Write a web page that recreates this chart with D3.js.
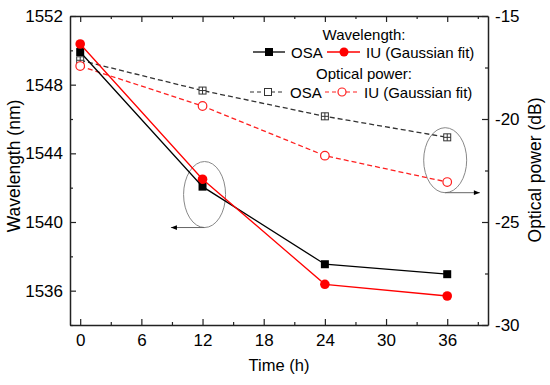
<!DOCTYPE html>
<html>
<head>
<meta charset="utf-8">
<script src="https://cdn.jsdelivr.net/npm/d3@7"></script>
<style>
body { margin: 0; background: white; }
text { font-family: Arial, "Liberation Sans", sans-serif; fill: black; }
</style>
</head>
<body>
<svg id="chart" width="550" height="385"></svg>
<script>
// data
var times = [0, 12, 24, 36];
var wlOSA = [1549.9, 1542.06, 1537.54, 1536.96];
var wlIU = [1550.37, 1542.49, 1536.37, 1535.69];
var pwOSA = [-17.15, -18.62, -19.87, -20.89];
var pwIU = [-17.43, -19.37, -21.78, -23.06];

var xTicks = [0, 6, 12, 18, 24, 30, 36];
var xMinor = [3, 9, 15, 21, 27, 33, 39];
var yLeftTicks = [1536, 1540, 1544, 1548, 1552];
var yLeftMinor = [1534, 1538, 1542, 1546, 1550];
var yRightTicks = [-30, -25, -20, -15];
var yRightMinor = [-27.5, -22.5, -17.5];

var pLeft = 70, pRight = 488, pTop = 16, pBottom = 325;
var svg = d3.select("#chart");

var x = d3.scaleLinear().domain([-1, 40]).range([pLeft, pRight]);
var yL = d3.scaleLinear().domain([1534, 1552]).range([pBottom, pTop]);
var yR = d3.scaleLinear().domain([-30, -15]).range([pBottom, pTop]);

// arrowhead for the ellipse pointers
svg.append("defs").append("marker")
    .attr("id", "arrow")
    .attr("viewBox", "0 0 10 10")
    .attr("refX", 10).attr("refY", 5)
    .attr("markerWidth", 9).attr("markerHeight", 6)
    .attr("markerUnits", "userSpaceOnUse")
    .attr("orient", "auto")
    .append("path").attr("d", "M0,1 L10,5 L0,9 Z").attr("fill", "black");

function axisStyle(g)
{
    g.select(".domain").attr("stroke", "#222").attr("stroke-width", 1.5);
    g.selectAll(".tick line").attr("stroke", "#222").attr("stroke-width", 1.2);
    g.selectAll(".tick text").style("font-size", "17px").attr("fill", "black");
}

// bottom and top axes, ticks pointing in
var gx = svg.append("g").attr("transform", "translate(0," + pBottom + ")")
    .call(d3.axisBottom(x).tickValues(xTicks).tickSizeInner(-6).tickSizeOuter(0).tickPadding(9));
axisStyle(gx);
var gxm = svg.append("g").attr("transform", "translate(0," + pBottom + ")")
    .call(d3.axisBottom(x).tickValues(xMinor).tickSizeInner(-3).tickSizeOuter(0).tickFormat(""));
axisStyle(gxm);
gxm.select(".domain").remove();

var gxt = svg.append("g").attr("transform", "translate(0," + pTop + ")")
    .call(d3.axisTop(x).tickValues(xTicks).tickSizeInner(-6).tickSizeOuter(0).tickFormat(""));
axisStyle(gxt);
var gxtm = svg.append("g").attr("transform", "translate(0," + pTop + ")")
    .call(d3.axisTop(x).tickValues(xMinor).tickSizeInner(-3).tickSizeOuter(0).tickFormat(""));
axisStyle(gxtm);
gxtm.select(".domain").remove();

// left axis (wavelength)
var gyl = svg.append("g").attr("transform", "translate(" + pLeft + ",0)")
    .call(d3.axisLeft(yL).tickValues(yLeftTicks).tickSizeInner(-6).tickSizeOuter(0).tickPadding(7).tickFormat(d3.format("d")));
axisStyle(gyl);
var gylm = svg.append("g").attr("transform", "translate(" + pLeft + ",0)")
    .call(d3.axisLeft(yL).tickValues(yLeftMinor).tickSizeInner(-3).tickSizeOuter(0).tickFormat(""));
axisStyle(gylm);
gylm.select(".domain").remove();

// right axis (optical power)
var gyr = svg.append("g").attr("transform", "translate(" + pRight + ",0)")
    .call(d3.axisRight(yR).tickValues(yRightTicks).tickSizeInner(-6).tickSizeOuter(0).tickPadding(7).tickFormat(d3.format("d")));
axisStyle(gyr);
gyr.selectAll(".tick text").text(function(d) { return "-" + Math.abs(d); });
var gyrm = svg.append("g").attr("transform", "translate(" + pRight + ",0)")
    .call(d3.axisRight(yR).tickValues(yRightMinor).tickSizeInner(-3).tickSizeOuter(0).tickFormat(""));
axisStyle(gyrm);
gyrm.select(".domain").remove();

// axis titles
svg.append("text").attr("x", (pLeft + pRight) / 2).attr("y", 371)
    .attr("text-anchor", "middle").style("font-size", "16.5px").text("Time (h)");
svg.append("text").attr("transform", "translate(20,166) rotate(-90)")
    .attr("text-anchor", "middle").style("font-size", "17.5px").text("Wavelength (nm)");
svg.append("text").attr("transform", "translate(541,170) rotate(-90)")
    .attr("text-anchor", "middle").style("font-size", "17.5px").text("Optical power (dB)");

// ellipses with pointer arrows
var ell = [
    {cx: 12.2, cy: 1541.6, rx: 21, ry: 33, to: 8.9},
    {cx: 35.8, cy: -22.0, rx: 21.5, ry: 32.5, to: 39.2}
];
svg.append("ellipse")
    .attr("cx", x(ell[0].cx)).attr("cy", yL(ell[0].cy))
    .attr("rx", ell[0].rx).attr("ry", ell[0].ry)
    .attr("fill", "none").attr("stroke", "#888").attr("stroke-width", 1);
svg.append("line")
    .attr("x1", x(ell[0].cx)).attr("y1", yL(ell[0].cy) + ell[0].ry)
    .attr("x2", x(ell[0].to)).attr("y2", yL(ell[0].cy) + ell[0].ry)
    .attr("stroke", "#666").attr("stroke-width", 1).attr("marker-end", "url(#arrow)");
svg.append("ellipse")
    .attr("cx", x(ell[1].cx)).attr("cy", yR(ell[1].cy))
    .attr("rx", ell[1].rx).attr("ry", ell[1].ry)
    .attr("fill", "none").attr("stroke", "#888").attr("stroke-width", 1);
svg.append("line")
    .attr("x1", x(ell[1].cx)).attr("y1", yR(ell[1].cy) + ell[1].ry)
    .attr("x2", x(ell[1].to)).attr("y2", yR(ell[1].cy) + ell[1].ry)
    .attr("stroke", "#666").attr("stroke-width", 1).attr("marker-end", "url(#arrow)");

// optical power (dashed, open markers)
function drawLine(vals, yScale, color, dash)
{
    var line = d3.line().x(function(d, i) { return x(times[i]); }).y(function(d) { return yScale(d); });
    svg.append("path").datum(vals)
	.attr("d", line)
	.attr("fill", "none")
	.attr("stroke", color)
	.attr("stroke-width", 1.3)
	.attr("stroke-dasharray", dash);
}

function openSquare(g, cx, cy)
{
    g.append("rect").attr("x", cx - 3.5).attr("y", cy - 3.5).attr("width", 7).attr("height", 7)
	.attr("fill", "white").attr("stroke", "#333").attr("stroke-width", 1);
}
function crossSquare(g, cx, cy)
{
    openSquare(g, cx, cy);
    g.append("path").attr("d", "M" + (cx - 3.5) + "," + cy + "H" + (cx + 3.5) + "M" + cx + "," + (cy - 3.5) + "V" + (cy + 3.5))
	.attr("stroke", "#333").attr("stroke-width", 1);
}

drawLine(pwOSA, yR, "#333", "5,3");
drawLine(pwIU, yR, "#ff2020", "5,3");

var mk = svg.append("g");
pwOSA.forEach(function(d, i) { crossSquare(mk, x(times[i]), yR(d)); });
mk.selectAll("circle.pw").data(pwIU).enter().append("circle")
    .attr("cx", function(d, i) { return x(times[i]); })
    .attr("cy", function(d) { return yR(d); })
    .attr("r", 4.3)
    .attr("fill", "white").attr("stroke", "#ff2020").attr("stroke-width", 1.2);

// wavelength (solid, filled markers)
drawLine(wlOSA, yL, "black", null);
drawLine(wlIU, yL, "#ff0000", null);
mk.selectAll("rect.wl").data(wlOSA).enter().append("rect")
    .attr("x", function(d, i) { return x(times[i]) - 4; })
    .attr("y", function(d) { return yL(d) - 4; })
    .attr("width", 8).attr("height", 8).attr("fill", "black");
mk.selectAll("circle.wl").data(wlIU).enter().append("circle")
    .attr("cx", function(d, i) { return x(times[i]); })
    .attr("cy", function(d) { return yL(d); })
    .attr("r", 4.8).attr("fill", "#ff0000");

// legend
var lg = svg.append("g").style("font-size", "15px");
lg.append("text").attr("x", 364).attr("y", 40).attr("text-anchor", "middle").text("Wavelength:");
lg.append("text").attr("x", 364).attr("y", 79).attr("text-anchor", "middle").text("Optical power:");

lg.append("line").attr("x1", 253).attr("x2", 285).attr("y1", 52).attr("y2", 52).attr("stroke", "black").attr("stroke-width", 1.3);
lg.append("rect").attr("x", 265).attr("y", 48).attr("width", 8).attr("height", 8).attr("fill", "black");
lg.append("text").attr("x", 291).attr("y", 57.5).text("OSA");
lg.append("line").attr("x1", 327).attr("x2", 360).attr("y1", 52).attr("y2", 52).attr("stroke", "#ff0000").attr("stroke-width", 1.3);
lg.append("circle").attr("cx", 344).attr("cy", 52).attr("r", 4.5).attr("fill", "#ff0000");
lg.append("text").attr("x", 366).attr("y", 57.5).text("IU (Gaussian fit)");

lg.append("line").attr("x1", 250).attr("x2", 283).attr("y1", 92).attr("y2", 92).attr("stroke", "#333").attr("stroke-width", 1.2).attr("stroke-dasharray", "4,3");
openSquare(lg, 268, 92);
lg.append("text").attr("x", 290).attr("y", 97.5).text("OSA");
lg.append("line").attr("x1", 325).attr("x2", 358).attr("y1", 92).attr("y2", 92).attr("stroke", "#ff2020").attr("stroke-width", 1.2).attr("stroke-dasharray", "4,3");
lg.append("circle").attr("cx", 342).attr("cy", 92).attr("r", 4).attr("fill", "white").attr("stroke", "#ff2020").attr("stroke-width", 1.2);
lg.append("text").attr("x", 364).attr("y", 97.5).text("IU (Gaussian fit)");
</script>
</body>
</html>
